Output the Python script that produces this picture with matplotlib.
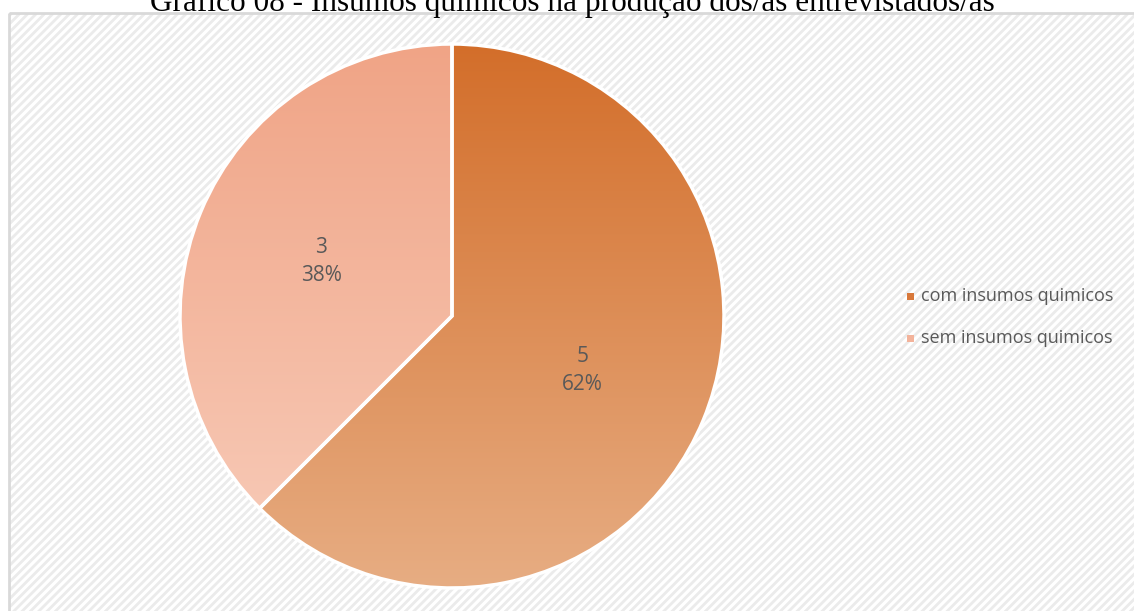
import numpy as np
import matplotlib.pyplot as plt
from matplotlib.patches import Wedge, Rectangle
from matplotlib.colors import LinearSegmentedColormap

# Data
categories = ["com insumos quimicos", "sem insumos quimicos"]
values = [5, 3]
pct_labels = ["62%", "38%"]
title = "Gráfico 08 - Insumos químicos na produção dos/as entrevistados/as"

plt.rcParams["hatch.linewidth"] = 2.0

W, H = 1134, 611
fig = plt.figure(figsize=(W / 100, H / 100), dpi=100)

# background chart area with diagonal hatch
bg = fig.add_axes([0, 0, 1, 1])
bg.set_xlim(0, W)
bg.set_ylim(H, 0)
bg.axis("off")
bg.add_patch(Rectangle((9, 13), W, H, facecolor="white", edgecolor="#ebebeb",
                       hatch="////", linewidth=0, zorder=0))
bg.add_patch(Rectangle((9, 13), W, H, facecolor="none", edgecolor="#d9d9d9",
                       linewidth=2, zorder=0.5))
bg.text(572, 11, title, ha="center", va="baseline", fontsize=22.5,
        family="Liberation Serif", color="black")

# pie axes in pixel coordinates
cx, cy, r = 452, 316, 272
ax = fig.add_axes([0, 0, 1, 1])
ax.set_xlim(0, W)
ax.set_ylim(H, 0)
ax.axis("off")

total = sum(values)
grads = [("#d36e2a", "#e7ad83"), ("#f0a486", "#f8cdbb")]
start = 90.0
angles = []
for v, (c1, c2) in zip(values, grads):
    sweep = 360.0 * v / total
    # y axis is flipped, so increasing angle runs clockwise on screen
    t1 = -start
    t2 = -start + sweep
    w = Wedge((cx, cy), r, t1, t2, facecolor="none", edgecolor="none")
    ax.add_patch(w)
    cmap = LinearSegmentedColormap.from_list("g", [c1, c2])
    grad = np.linspace(0, 1, 256).reshape(-1, 1)
    im = ax.imshow(grad, cmap=cmap, extent=[cx - r, cx + r, cy + r, cy - r],
                   aspect="auto", zorder=1, origin="upper")
    im.set_clip_path(w)
    ax.add_patch(Wedge((cx, cy), r, t1, t2, facecolor="none",
                       edgecolor="white", linewidth=2.5, zorder=2))
    angles.append(np.deg2rad((t1 + t2) / 2))
    start -= sweep

for v, p, mid in zip(values, pct_labels, angles):
    lx = cx + 0.52 * r * np.cos(mid)
    ly = cy + 0.52 * r * np.sin(mid)
    ax.text(lx, ly, f"{v}\n{p}", ha="center", va="center", fontsize=15,
            color="#595959", family="Open Sans", linespacing=1.45)

# legend
legend_colors = ["#d8783a", "#f3b39b"]
for i, cat in enumerate(categories):
    y = 296 + 42 * i
    ax.add_patch(Rectangle((907, y - 3.5), 7, 7, facecolor=legend_colors[i],
                           edgecolor="none", zorder=3))
    ax.text(921, y, cat, ha="left", va="center", fontsize=13,
            color="#595959", family="Open Sans")

fig.savefig("out.png", dpi=100)
